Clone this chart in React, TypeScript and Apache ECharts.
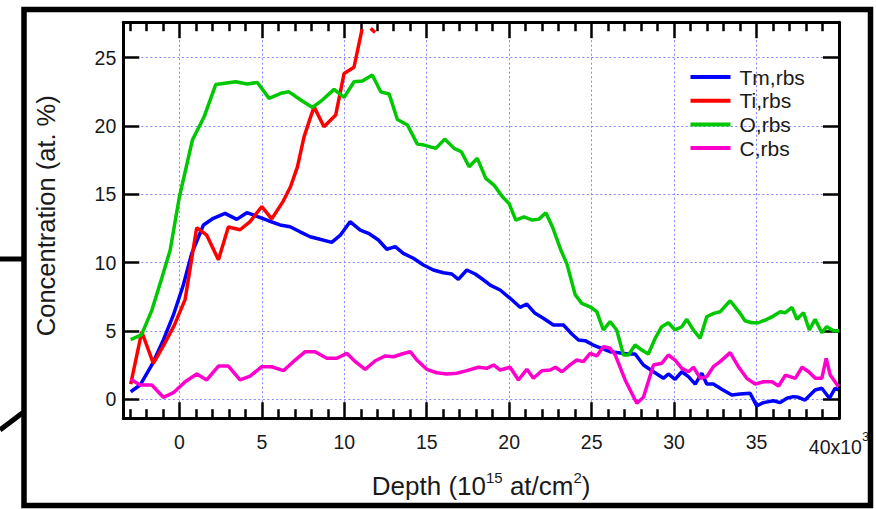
import { useEffect, useRef } from "react";
import * as echarts from "echarts";

// ---- Data (depth in 10^15 at/cm^2 x10^3, concentration in at.%) ----
const tmDepth = [-2.95, -2.38, -1.67, -0.97, -0.36, 0.24, 0.75, 1.46, 2.06, 2.77, 3.48, 4.09, 4.79, 5.4, 6.1, 6.71, 7.32, 7.93, 8.53, 9.24, 9.76, 10.35, 10.97, 11.47, 12.07, 12.58, 13.09, 13.58, 14.19, 14.8, 15.4, 16.01, 16.52, 16.92, 17.43, 17.94, 18.45, 18.85, 19.45, 20.06, 20.66, 21.07, 21.57, 22.07, 22.68, 23.29, 23.8, 24.2, 24.6, 25.1, 25.6, 26.12, 26.62, 27.23, 27.64, 28.14, 28.75, 29.35, 29.65, 30.06, 30.47, 30.87, 31.28, 31.68, 31.98, 32.38, 32.89, 33.5, 34.0, 34.61, 35.01, 35.42, 36.02, 36.43, 36.84, 37.23, 37.54, 37.94, 38.55, 38.96, 39.42, 39.76, 39.96];
const tmConc = [0.54, 1.03, 2.5, 4.33, 6.16, 8.35, 10.67, 12.75, 13.24, 13.6, 13.16, 13.65, 13.35, 13.06, 12.75, 12.62, 12.25, 11.89, 11.7, 11.48, 12.0, 12.99, 12.38, 12.14, 11.65, 10.97, 11.16, 10.67, 10.31, 9.82, 9.45, 9.25, 9.16, 8.77, 9.45, 9.16, 8.72, 8.35, 7.99, 7.38, 6.72, 6.96, 6.28, 5.92, 5.42, 5.42, 4.77, 4.33, 4.28, 3.96, 3.72, 3.47, 3.4, 3.3, 3.3, 2.5, 2.0, 1.52, 1.84, 1.45, 2.0, 1.64, 1.1, 1.89, 1.1, 1.1, 0.72, 0.3, 0.37, 0.42, -0.5, -0.26, -0.12, -0.26, 0.06, 0.18, 0.13, -0.07, 0.67, 0.79, 0.06, 0.79, 0.67];

const tiDepth = [-2.95, -2.28, -1.58, -0.97, -0.31, 0.35, 1.05, 1.66, 2.37, 2.97, 3.68, 4.29, 5.0, 5.6, 6.3, 6.74, 7.16, 7.56, 7.97, 8.17, 8.77, 9.48, 9.99, 10.59, 11.08, 11.3, 11.6, 11.87];
const tiConc = [1.1, 4.93, 2.62, 3.9, 5.4, 7.3, 12.55, 12.0, 10.2, 12.6, 12.4, 13.0, 14.1, 13.2, 14.5, 15.55, 17.0, 19.2, 20.7, 21.4, 19.94, 20.8, 23.85, 24.3, 27.1, null, 27.15, 26.85];

const oDepth = [-2.95, -2.3, -1.67, -1.07, -0.56, 0.0, 0.79, 1.5, 2.21, 3.42, 4.12, 4.73, 5.44, 6.15, 6.65, 7.36, 8.07, 8.67, 9.38, 9.99, 10.59, 11.1, 11.7, 12.21, 12.72, 13.22, 13.83, 14.43, 14.84, 15.55, 16.09, 16.66, 17.1, 17.57, 18.07, 18.58, 19.08, 19.59, 19.99, 20.4, 20.9, 21.41, 21.81, 22.22, 22.62, 23.13, 23.5, 24.0, 24.4, 24.9, 25.31, 25.71, 26.12, 26.52, 26.93, 27.23, 27.64, 28.04, 28.44, 28.85, 29.25, 29.65, 30.06, 30.47, 30.77, 31.17, 31.58, 31.98, 32.4, 32.8, 33.4, 34.0, 34.3, 34.71, 35.11, 35.62, 36.02, 36.44, 36.73, 37.15, 37.45, 37.85, 38.2, 38.55, 38.96, 39.26, 39.67, 40.0];
const oConc = [4.35, 4.7, 6.5, 8.84, 10.9, 14.8, 18.97, 20.67, 23.04, 23.24, 23.07, 23.19, 22.02, 22.39, 22.5, 21.9, 21.36, 21.9, 22.68, 22.09, 23.24, 23.3, 23.73, 22.5, 22.34, 20.48, 20.07, 18.67, 18.6, 18.36, 19.04, 18.36, 18.11, 17.01, 17.63, 16.16, 15.67, 14.82, 14.33, 13.11, 13.35, 13.11, 13.18, 13.65, 12.62, 10.92, 9.9, 7.65, 7.01, 6.76, 6.4, 5.06, 5.67, 5.06, 3.23, 3.23, 3.96, 3.59, 3.3, 4.45, 5.3, 5.59, 5.06, 5.3, 5.84, 5.06, 4.45, 6.03, 6.28, 6.4, 7.2, 6.28, 5.74, 5.59, 5.59, 5.84, 6.08, 6.4, 6.32, 6.72, 5.84, 6.32, 5.06, 5.84, 4.86, 5.3, 5.0, 5.0];

const cDepth = [-2.95, -2.38, -1.67, -0.97, -0.36, 0.35, 1.06, 1.66, 2.37, 2.97, 3.68, 4.29, 5.0, 5.6, 6.31, 7.02, 7.63, 8.23, 8.94, 9.55, 10.15, 10.67, 11.27, 11.88, 12.49, 12.99, 13.49, 14.0, 14.4, 15.0, 15.61, 16.22, 16.82, 17.43, 18.13, 18.64, 19.05, 19.45, 20.06, 20.56, 21.07, 21.47, 21.98, 22.49, 22.8, 23.2, 23.69, 24.1, 24.5, 24.91, 25.31, 25.72, 26.12, 26.43, 27.03, 27.74, 28.14, 28.75, 29.25, 29.65, 30.06, 30.47, 30.87, 31.18, 31.59, 31.98, 32.38, 32.79, 33.4, 33.9, 34.41, 34.92, 35.42, 35.94, 36.34, 36.75, 37.35, 37.76, 38.16, 38.56, 38.96, 39.22, 39.47, 39.97];
const cConc = [1.45, 1.03, 1.03, 0.13, 0.47, 1.27, 1.84, 1.4, 2.42, 2.42, 1.4, 1.69, 2.37, 2.37, 2.08, 2.86, 3.47, 3.47, 2.99, 2.99, 3.35, 2.74, 2.18, 2.81, 3.16, 3.1, 3.3, 3.47, 2.86, 2.18, 1.93, 1.84, 1.89, 2.08, 2.33, 2.25, 2.5, 2.13, 2.33, 1.4, 2.18, 1.52, 2.08, 2.13, 2.33, 2.0, 2.5, 2.86, 2.74, 3.35, 3.16, 3.84, 3.72, 3.23, 1.4, -0.31, 0.13, 2.5, 2.62, 3.23, 2.86, 2.25, 2.0, 2.33, 1.52, 1.64, 2.37, 2.74, 3.4, 2.37, 1.52, 1.1, 1.27, 1.27, 0.96, 1.76, 1.52, 2.33, 2.0, 1.52, 1.52, 2.99, 1.76, 0.91];

const seriesNames = ["Tm,rbs", "Ti,rbs", "O,rbs", "C,rbs"];
const seriesColors = ["#0000ff", "#ff0000", "#00c800", "#ff00cc"];

const xMajorTicks = [0, 5, 10, 15, 20, 25, 30, 35, 40];
const xMinorTicks = [-3, -2, -1, 1, 2, 3, 4, 6, 7, 8, 9, 11, 12, 13, 14, 16, 17, 18, 19, 21, 22, 23, 24, 26, 27, 28, 29, 31, 32, 33, 34, 36, 37, 38, 39];
const yMajorTicks = [0, 5, 10, 15, 20, 25];

const X_MIN = -3.4;
const X_MAX = 40;
const Y_MIN = -1.4;
const Y_MAX = 27.6;

const FONT = "'Liberation Sans', Arial, Helvetica, sans-serif";
const TEXT = "#1a1a1a";

const pairs = (d: number[], c: (number | null)[]) => d.map((x, i) => [x, c[i]]);

export default function App() {
  const ref = useRef<HTMLDivElement>(null);

  useEffect(() => {
    if (!ref.current) return;
    const chart = echarts.init(ref.current, null, { renderer: "svg" });

    const axisLine = { show: true, onZero: false, lineStyle: { color: "#000", width: 3 } };
    const tickStyle = { color: "#000", width: 2.5 };
    const gridLine = { show: true, lineStyle: { color: "#8585ff", width: 1, type: [2, 2.5] } };

    const xBase = { type: "value", min: X_MIN, max: X_MAX, gridIndex: 0 };
    const yBase = { type: "value", min: Y_MIN, max: Y_MAX, gridIndex: 0 };

    const option: any = {
      animation: false,
      backgroundColor: "#fff",
      grid: { left: 123.3, top: 22.2, width: 715.7, height: 396, containLabel: false },
      legend: {
        orient: "vertical",
        left: 690.5,
        top: 66.5,
        padding: 0,
        itemWidth: 40,
        itemHeight: 4,
        itemGap: 2.7,
        icon: "rect",
        data: seriesNames,
        textStyle: { fontSize: 21, fontFamily: FONT, color: TEXT, lineHeight: 21, padding: [0, 0, 0, 4] },
      },
      xAxis: [
        {
          ...xBase,
          position: "bottom",
          axisLine,
          axisTick: { show: true, inside: true, length: 16, lineStyle: tickStyle, customValues: xMajorTicks },
          axisLabel: {
            show: true,
            customValues: xMajorTicks,
            margin: 12,
            formatter: (v: number) => (v === 40 ? "{m|40x10}{e|3}" : "{n|" + v + "}"),
            rich: {
              n: { fontSize: 19.5, fontFamily: FONT, color: TEXT, lineHeight: 22, verticalAlign: "bottom" },
              m: { fontSize: 19.5, fontFamily: FONT, color: TEXT, lineHeight: 27, verticalAlign: "bottom" },
              e: { fontSize: 13, fontFamily: FONT, color: TEXT, lineHeight: 13, verticalAlign: "top" },
            },
          },
          splitLine: gridLine,
          name: "{a|Depth (10}{s|15}{a| at/cm}{s|2}{a|)}",
          nameLocation: "middle",
          nameGap: 52,
          nameTextStyle: {
            rich: {
              a: { fontSize: 26, fontFamily: FONT, color: TEXT, lineHeight: 29, verticalAlign: "bottom" },
              s: { fontSize: 15, fontFamily: FONT, color: TEXT, lineHeight: 15, verticalAlign: "top" },
            },
          },
        },
        {
          ...xBase,
          position: "bottom",
          axisLine: { show: false, onZero: false },
          axisTick: { show: true, inside: true, length: 9, lineStyle: tickStyle, customValues: xMinorTicks },
          axisLabel: { show: false },
          splitLine: { show: false },
        },
        {
          ...xBase,
          position: "top",
          axisLine,
          axisTick: { show: true, inside: true, length: 16, lineStyle: tickStyle, customValues: xMajorTicks },
          axisLabel: { show: false },
          splitLine: { show: false },
        },
        {
          ...xBase,
          position: "top",
          axisLine: { show: false, onZero: false },
          axisTick: { show: true, inside: true, length: 9, lineStyle: tickStyle, customValues: xMinorTicks },
          axisLabel: { show: false },
          splitLine: { show: false },
        },
      ],
      yAxis: [
        {
          ...yBase,
          position: "left",
          axisLine,
          axisTick: { show: true, inside: true, length: 16, lineStyle: tickStyle, customValues: yMajorTicks },
          axisLabel: { show: true, customValues: yMajorTicks, margin: 7, fontSize: 19.5, fontFamily: FONT, color: TEXT },
          splitLine: gridLine,
          name: "Concentration (at. %)",
          nameLocation: "middle",
          nameGap: 64,
          nameTextStyle: { fontSize: 25.5, fontFamily: FONT, color: TEXT, padding: [0, 0, 0, 9] },
        },
        {
          ...yBase,
          position: "right",
          axisLine,
          axisTick: { show: true, inside: true, length: 16, lineStyle: tickStyle, customValues: yMajorTicks },
          axisLabel: { show: false },
          splitLine: { show: false },
        },
      ],
      series: [
        [tmDepth, tmConc],
        [tiDepth, tiConc],
        [oDepth, oConc],
        [cDepth, cConc],
      ].map(([d, c], i) => ({
        name: seriesNames[i],
        type: "line",
        xAxisIndex: 0,
        yAxisIndex: 0,
        data: pairs(d as number[], c as (number | null)[]),
        showSymbol: false,
        symbol: "none",
        connectNulls: false,
        color: seriesColors[i],
        lineStyle: { color: seriesColors[i], width: 3.5 },
        z: 3,
      })),
      graphic: [
        {
          type: "rect",
          shape: { x: 24, y: 9.5, width: 846.5, height: 496 },
          style: { fill: "none", stroke: "#000", lineWidth: 5.5 },
          silent: true,
        },
        {
          type: "line",
          shape: { x1: 0, y1: 259, x2: 24, y2: 259 },
          style: { stroke: "#000", lineWidth: 5 },
          silent: true,
        },
        {
          type: "line",
          shape: { x1: 0, y1: 430, x2: 25, y2: 411 },
          style: { stroke: "#000", lineWidth: 5 },
          silent: true,
        },
      ],
    };

    chart.setOption(option);
    return () => chart.dispose();
  }, []);

  return (
    <div
      ref={ref}
      style={{ position: "fixed", left: 0, top: 0, width: 876, height: 509, background: "#fff" }}
    />
  );
}
